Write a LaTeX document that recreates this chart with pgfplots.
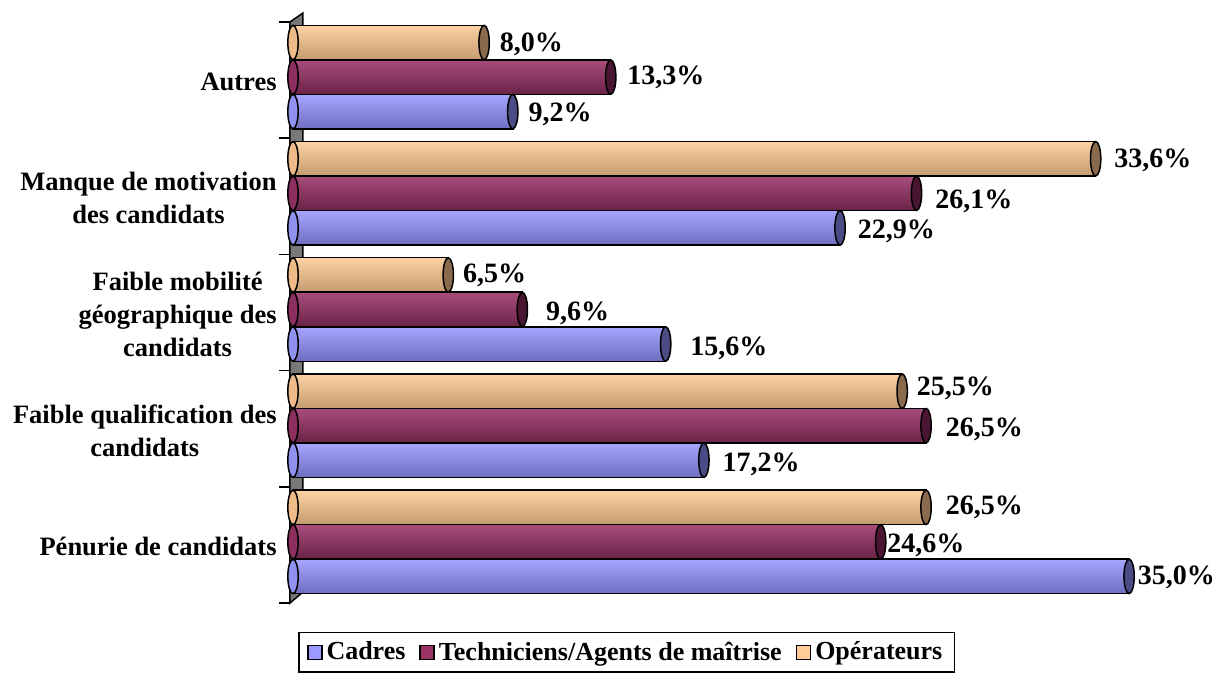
\documentclass[border=0pt]{standalone}
\usepackage{fontspec}
\setmainfont{Liberation Serif}
\usepackage{pgfplots}
\pgfplotsset{compat=1.18}
\usepackage{pgfplotstable}
\usetikzlibrary{calc}

\definecolor{bLight}{HTML}{A6A6FF}\definecolor{bMid}{HTML}{9090EE}\definecolor{bDark}{HTML}{6E6EC0}\definecolor{bCap}{HTML}{4B4B85}\definecolor{bLeg}{HTML}{9999FF}
\definecolor{tLight}{HTML}{A84C7C}\definecolor{tMid}{HTML}{8C2F5E}\definecolor{tDark}{HTML}{6A2346}\definecolor{tCap}{HTML}{4A1530}\definecolor{tLeg}{HTML}{993366}
\definecolor{oLight}{HTML}{FDD3A4}\definecolor{oMid}{HTML}{EDBA88}\definecolor{oDark}{HTML}{C49B6F}\definecolor{oCap}{HTML}{8A6A4C}\definecolor{oLeg}{HTML}{FFCC99}

\newcommand\lbl{\fontsize{13.25}{16.5}\selectfont\bfseries}
\newcommand\vlbl{\fontsize{14}{16.5}\selectfont\bfseries}
\newcommand\llbl{\fontsize{13}{16}\selectfont\bfseries}

% end cap of a cylinder
\pgfdeclareplotmark{cap}{%
  \pgfpathellipse{\pgfpointorigin}{\pgfqpoint{0.3\pgfplotmarksize}{0pt}}{\pgfqpoint{0pt}{\pgfplotmarksize}}%
  \pgfusepathqfillstroke}

% y: 0 Penurie ... 4 Autres ; dx, dy = label offsets in pt
\pgfplotstableread{
y v dx dy
-0.297 35.0 4 -0.5
0.703 17.2 9 -2
1.703 15.6 12 -2
2.703 22.9 8.5 -2
3.703 9.2 7.5 -1.5
}\cadres
\pgfplotstableread{
y v dx dy
0 24.6 3 -1.5
1 26.5 9.5 -2
2 9.6 11.5 -2
3 26.1 9 -4
4 13.3 8 0
}\techn
\pgfplotstableread{
y v dx dy
0.297 26.5 9.5 0
1.297 25.5 7 1.5
2.297 6.5 7 0
3.297 33.6 9 -1
4.297 8.0 7.5 -1
}\operat

\pgfplotsset{
  bars/.style={xbar, bar width=0.297, bar shift=0pt, draw=black, line width=0.75pt, forget plot},
  lcap/.style={only marks, mark=cap, mark size=8.6pt, forget plot, mark options={draw=black, line width=0.75pt, fill=#1}},
  rcap/.style={only marks, mark=cap, mark size=8.6pt, forget plot, mark options={draw=black, line width=0.75pt, fill=#1},
    point meta=x, nodes near coords={\pgfmathprintnumber{\pgfplotspointmeta}\%},
    visualization depends on=\thisrow{dx}\as\ndx,
    visualization depends on=\thisrow{dy}\as\ndy,
    every node near coord/.append style={anchor=west, inner sep=0pt, xshift=\ndx, yshift=\ndy, font=\vlbl, text=black}},
  legsq/.style={legend image code/.code={\draw[fill=#1, draw=black, line width=0.75pt] (0pt,-3.5pt) rectangle (7pt,3.5pt);}},
}

\begin{document}
\begin{tikzpicture}
\begin{axis}[
  scale only axis, width=430pt, height=290.5pt,
  xmin=0, xmax=36, ymin=-0.5, ymax=4.5,
  clip=false, axis line style={draw=none},
  xtick=\empty, ytick={0,1,2,3,4}, major tick length=0pt,
  yticklabels={{Pénurie de candidats},{Faible qualification des\\candidats},{Faible mobilité\\géographique des\\candidats},{Manque de motivation\\des candidats},{Autres}},
  yticklabel style={align=center, font=\lbl, inner sep=0pt, xshift=-8pt, yshift=-2.5pt},
  /pgf/number format/fixed, /pgf/number format/fixed zerofill, /pgf/number format/precision=1,
  /pgf/number format/use comma, /pgf/number format/assume math mode=true,
  legend columns=-1,
  legend style={at={(0.388,-0.055)}, anchor=north, draw=black, line width=0.75pt, font=\llbl,
    inner xsep=4pt, inner ysep=2.5pt, /tikz/every even column/.append style={column sep=5pt}},
]
% wall
\filldraw[fill=gray!95!black, draw=black, line width=0.75pt]
  ($(rel axis cs:0,0)+(-1.5pt,-1.5pt)$) -- ($(rel axis cs:0,1)+(-1.5pt,-1.5pt)$) --
  ($(rel axis cs:0,1)+(5pt,3pt)$) -- ($(rel axis cs:0,0)+(5pt,4pt)$) -- cycle;
\pgfplotsinvokeforeach{-0.5,0.5,1.5,2.5,3.5,4.5}{
  \draw[line width=0.75pt] ($(axis cs:0,#1)+(-1.5pt,-1.5pt)$) -- ($(axis cs:0,#1)+(-7pt,-1.5pt)$);
}
% left ends
\addplot[lcap=bMid] table[x expr=0, y=y] {\cadres};
\addplot[lcap=tMid] table[x expr=0, y=y] {\techn};
\addplot[lcap=oMid] table[x expr=0, y=y] {\operat};
% bars, one path each so that every cylinder gets its own shading
\pgfplotsinvokeforeach{0,1,2,3,4}{
  \addplot[bars, top color=bLight, middle color=bMid, bottom color=bDark, restrict expr to domain={\coordindex}{#1:#1}] table[x=v, y=y] {\cadres};
  \addplot[bars, top color=tLight, middle color=tMid, bottom color=tDark, restrict expr to domain={\coordindex}{#1:#1}] table[x=v, y=y] {\techn};
  \addplot[bars, top color=oLight, middle color=oMid, bottom color=oDark, restrict expr to domain={\coordindex}{#1:#1}] table[x=v, y=y] {\operat};
}
% right ends and values
\addplot[rcap=bCap] table[x=v, y=y] {\cadres};
\addplot[rcap=tCap] table[x=v, y=y] {\techn};
\addplot[rcap=oCap] table[x=v, y=y] {\operat};
\addlegendimage{legsq=bLeg}\addlegendentry{Cadres}
\addlegendimage{legsq=tLeg}\addlegendentry{Techniciens/Agents de maîtrise}
\addlegendimage{legsq=oLeg}\addlegendentry{Opérateurs}
\end{axis}
\pgfresetboundingbox
\path (-146.5pt,-36.5pt) rectangle (461.5pt,300pt);
\end{tikzpicture}
\end{document}
